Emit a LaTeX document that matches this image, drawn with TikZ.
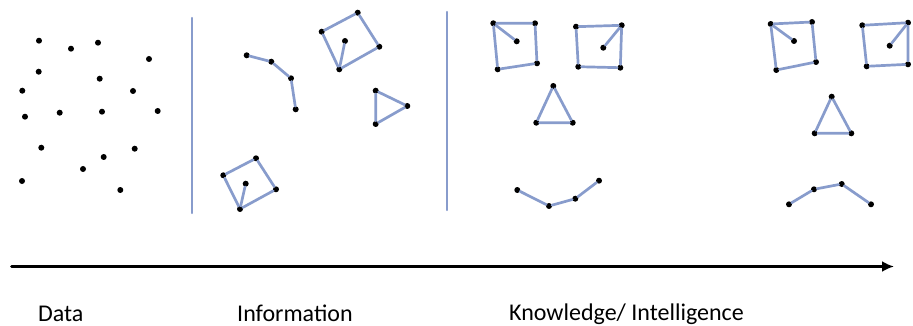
\documentclass[tikz,border=0pt]{standalone}
\usepackage{fontspec}
\setmainfont{Carlito}
\usetikzlibrary{arrows.meta}
\definecolor{linkblue}{RGB}{136,156,204}

\begin{document}
\begin{tikzpicture}[x=1pt, y=-1pt, line cap=round, line join=round,
  dot/.style={circle, fill=black, inner sep=0pt, minimum size=6pt},
  link/.style={draw=linkblue, line width=2.7pt},
  sep/.style={draw=linkblue, line width=2.2pt},
  axis/.style={line width=3pt, -{Latex[length=12pt,width=11pt]}},
  lbl/.style={anchor=base west, inner sep=0pt, font=\fontsize{24}{28}\selectfont}]

\useasboundingbox (0,0) rectangle (913,326);

% data: loose points
\foreach \x/\y [count=\i] in {39/40.7, 71/48.7, 98/42.7, 149/59, 38.7/71.7,
    99.7/78.7, 22.3/90.7, 133/91, 25/116.7, 59.7/112.7, 102/111.7, 157.7/111,
    41.3/147.7, 134.7/148.7, 103.7/157, 83/169, 22/181, 120.3/190}
  \node[dot] (d\i) at (\x,\y) {};

% separators
\coordinate (s1t) at (191.7,18);  \coordinate (s1b) at (191.7,213);
\coordinate (s2t) at (446.7,12);  \coordinate (s2b) at (446.7,210);
\draw[sep] (s1t) -- (s1b);
\draw[sep] (s2t) -- (s2b);

% information: scattered shapes
\node[dot] (a1) at (246.7,55.3) {};
\node[dot] (a2) at (271.3,61.7) {};
\node[dot] (a3) at (291,78.3) {};
\node[dot] (a4) at (295.7,109.3) {};
\draw[link] (a1) -- (a2) -- (a3) -- (a4);

\node[dot] (p1) at (321.7,31.7) {};
\node[dot] (p2) at (357.7,12.7) {};
\node[dot] (p3) at (379.3,46.7) {};
\node[dot] (p4) at (339.3,69.3) {};
\node[dot] (pc) at (345,41) {};
\draw[link] (p1) -- (p2) -- (p3) -- (p4) -- (p1);
\draw[link] (p4) -- (pc);

\node[dot] (t1) at (375.7,90.7) {};
\node[dot] (t2) at (407.3,106) {};
\node[dot] (t3) at (375.7,124) {};
\draw[link] (t1) -- (t2) -- (t3) -- (t1);

\node[dot] (q1) at (223.3,175.3) {};
\node[dot] (q2) at (256,158.3) {};
\node[dot] (q3) at (276,189.3) {};
\node[dot] (q4) at (240,209) {};
\node[dot] (qc) at (245.7,183.7) {};
\draw[link] (q1) -- (q2) -- (q3) -- (q4) -- (q1);
\draw[link] (q4) -- (qc);

% knowledge: happy face
\node[dot] (hl1) at (493.3,23.3) {};
\node[dot] (hl2) at (535,23.3) {};
\node[dot] (hl3) at (537,63.3) {};
\node[dot] (hl4) at (497.7,69.3) {};
\node[dot] (hlc) at (516.7,41.3) {};
\draw[link] (hl1) -- (hl2) -- (hl3) -- (hl4) -- (hl1);
\draw[link] (hl1) -- (hlc);

\node[dot] (hr1) at (576,26.7) {};
\node[dot] (hr2) at (621.7,25.3) {};
\node[dot] (hr3) at (620.3,67.7) {};
\node[dot] (hr4) at (578.3,66.7) {};
\node[dot] (hrc) at (603.3,47.7) {};
\draw[link] (hr1) -- (hr2) -- (hr3) -- (hr4) -- (hr1);
\draw[link] (hr2) -- (hrc);

\node[dot] (hn1) at (553.3,86) {};
\node[dot] (hn2) at (536.3,122.7) {};
\node[dot] (hn3) at (572.7,122.7) {};
\draw[link] (hn1) -- (hn2) -- (hn3) -- (hn1);

\node[dot] (hm1) at (517.3,190) {};
\node[dot] (hm2) at (549,206) {};
\node[dot] (hm3) at (575.3,198.7) {};
\node[dot] (hm4) at (599,180.7) {};
\draw[link] (hm1) -- (hm2) -- (hm3) -- (hm4);

% knowledge: sad face
\node[dot] (sl1) at (770.7,24) {};
\node[dot] (sl2) at (812,22) {};
\node[dot] (sl3) at (816,62) {};
\node[dot] (sl4) at (776.3,70) {};
\node[dot] (slc) at (794,41) {};
\draw[link] (sl1) -- (sl2) -- (sl3) -- (sl4) -- (sl1);
\draw[link] (sl1) -- (slc);

\node[dot] (sr1) at (862.3,25.3) {};
\node[dot] (sr2) at (908,22.7) {};
\node[dot] (sr3) at (908,64.3) {};
\node[dot] (sr4) at (866.7,66.3) {};
\node[dot] (src) at (889.7,45.7) {};
\draw[link] (sr1) -- (sr2) -- (sr3) -- (sr4) -- (sr1);
\draw[link] (sr2) -- (src);

\node[dot] (sn1) at (831.7,96.7) {};
\node[dot] (sn2) at (814.7,133.3) {};
\node[dot] (sn3) at (851.3,133.3) {};
\draw[link] (sn1) -- (sn2) -- (sn3) -- (sn1);

\node[dot] (sm1) at (789,204.3) {};
\node[dot] (sm2) at (814,189.3) {};
\node[dot] (sm3) at (841.7,184) {};
\node[dot] (sm4) at (871,204.3) {};
\draw[link] (sm1) -- (sm2) -- (sm3) -- (sm4);

% timeline
\coordinate (start) at (11.7,266.5);
\coordinate (end)   at (894,266.5);
\draw[axis] (start) -- (end);

\node[lbl] (data) at (38,321)  {Data};
\node[lbl] (info) at (237,321) {Information};
\node[lbl] (know) at (509,320) {Knowledge/ Intelligence};

\end{tikzpicture}
\end{document}
